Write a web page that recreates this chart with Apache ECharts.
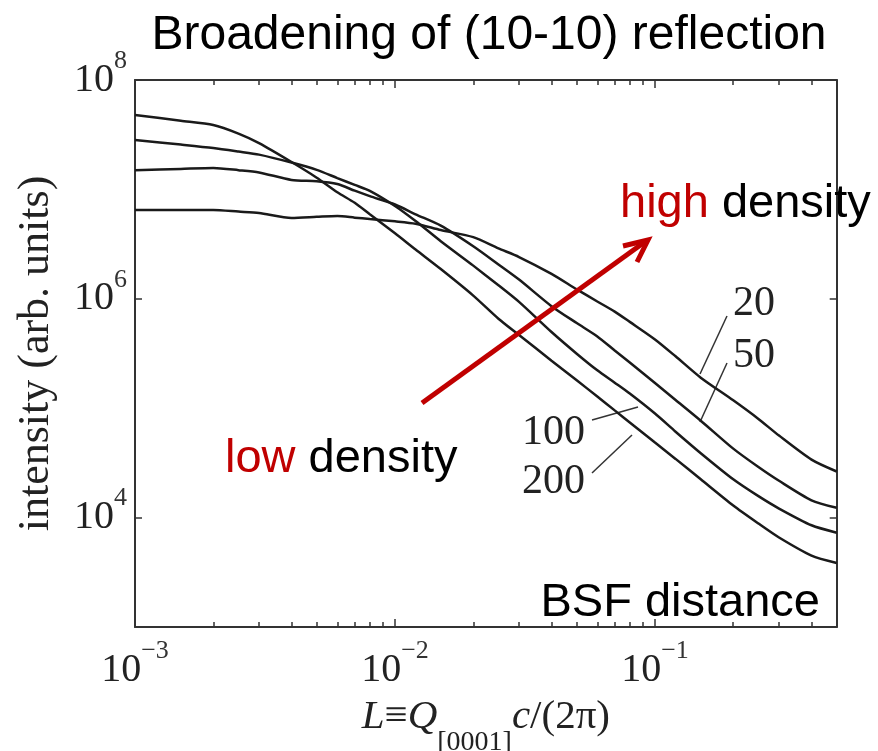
<!DOCTYPE html>
<html><head><meta charset="utf-8">
<script src="https://cdn.jsdelivr.net/npm/echarts@6/dist/echarts.min.js"></script>
<style>html,body{margin:0;padding:0;background:#fff}#c{width:878px;height:751px}</style>
</head><body><div id="c"></div>
<script>
// ---- data ----
const L = [0.001,0.0015,0.002,0.0025,0.003,0.004,0.005,0.006,0.007,0.008,0.01,0.012,0.015,0.02,0.025,0.03,0.04,0.05,0.06,0.07,0.08,0.1,0.12,0.15,0.2,0.25,0.3,0.4,0.5];
const I20  = [6.49e6,6.49e6,6.49e6,6.27e6,6.09e6,5.48e6,5.61e6,5.71e6,5.52e6,5.36e6,5.11e6,4.86e6,4.25e6,3.66e6,2.89e6,2.41e6,1.69e6,1.22e6,9.45e5,7.64e5,6.15e5,4.25e5,2.98e5,1.90e5,1.18e5,7.98e4,5.62e4,3.39e4,2.64e4];
const I50  = [1.50e7,1.54e7,1.57e7,1.50e7,1.43e7,1.22e7,1.19e7,1.12e7,9.73e6,8.68e6,7.28e6,5.92e6,4.66e6,3.02e6,2.06e6,1.50e6,8.57e5,6.00e5,4.53e5,3.37e5,2.62e5,1.70e5,1.19e5,7.69e4,4.27e4,2.90e4,2.17e4,1.44e4,1.23e4];
const I100 = [2.83e7,2.57e7,2.39e7,2.22e7,2.08e7,1.76e7,1.51e7,1.27e7,1.10e7,9.71e6,7.06e6,5.14e6,3.36e6,2.01e6,1.33e6,9.37e5,4.97e5,3.15e5,2.22e5,1.71e5,1.36e5,8.93e4,6.10e4,3.88e4,2.24e4,1.57e4,1.21e4,8.51e3,7.28e3];
const I200 = [4.79e7,4.24e7,3.88e7,3.24e7,2.65e7,1.78e7,1.28e7,9.42e6,7.55e6,5.93e6,3.97e6,2.82e6,1.87e6,1.07e6,6.58e5,4.67e5,2.72e5,1.80e5,1.28e5,9.55e4,7.41e4,4.85e4,3.44e4,2.24e4,1.29e4,8.83e3,6.58e3,4.50e3,3.85e3];
const seriesNames = ['20','50','100','200'];
const xMajor = [0.001, 0.01, 0.1];
const xMinor = [0.002,0.003,0.004,0.005,0.006,0.007,0.008,0.009,0.02,0.03,0.04,0.05,0.06,0.07,0.08,0.09,0.2,0.3,0.4];
const yMajor = [1e4, 1e6, 1e8];
const xRange = [0.001, 0.5];
const yRange = [1e3, 1e8];

// ---- chart ----
const serif = "'Liberation Serif','Times New Roman',serif";
const sans = "'Liberation Sans',Arial,sans-serif";
const axisColor = '#333';
function expLabel(v){
  const e = Math.round(Math.log10(v));
  return '{b|10}{s|' + (e < 0 ? '\u2212' + (-e) : e) + '}';
}
const labelRich = {
  b:{fontFamily:serif,fontSize:40,lineHeight:64,color:'#222'},
  s:{fontFamily:serif,fontSize:26,lineHeight:26,verticalAlign:'top',color:'#333'}
};
function xAx(pos, ticks, len, withLine, withLabel){
  return {
    type:'log', logBase:10, min:xRange[0], max:xRange[1], position:pos, offset:0, gridIndex:0,
    axisLine:{show:withLine, onZero:false, lineStyle:{color:axisColor,width:2}},
    axisTick:{show:true, inside:true, length:len, customValues:ticks, lineStyle:{color:axisColor,width:1.5}},
    axisLabel: withLabel ? {show:true, customValues:xMajor, formatter:expLabel, rich:labelRich, margin:11} : {show:false},
    splitLine:{show:false}, minorTick:{show:false}
  };
}
function yAx(pos, withLabel){
  return {
    type:'log', logBase:10, min:yRange[0], max:yRange[1], position:pos, offset:0, gridIndex:0,
    axisLine:{show:true, onZero:false, lineStyle:{color:axisColor,width:2}},
    axisTick:{show:true, inside:true, length:7, customValues:yMajor, lineStyle:{color:axisColor,width:1.5}},
    axisLabel: withLabel ? {show:true, customValues:yMajor, formatter:expLabel, rich:labelRich, margin:8} : {show:false},
    splitLine:{show:false}, minorTick:{show:false}
  };
}
const xAxes = [xAx('bottom', xMajor, 8, true, true), xAx('bottom', xMinor, 5, false, false),
               xAx('top', xMajor, 8, true, false), xAx('top', xMinor, 5, false, false)];
xAxes[0].name = '{i|L}{n|\u2261}{i|Q}{sub|[0001]}{i|c}{n|/(2\u03c0)}';
xAxes[0].nameLocation = 'middle';
xAxes[0].nameGap = 50;
xAxes[0].nameTextStyle = {
  rich:{
    i:{fontFamily:serif,fontStyle:'italic',fontSize:41,lineHeight:80,color:'#222'},
    n:{fontFamily:serif,fontSize:41,lineHeight:80,color:'#222'},
    sub:{fontFamily:serif,fontSize:28,lineHeight:40,verticalAlign:'bottom',color:'#222'}
  }
};
const yAxes = [yAx('left', true), yAx('right', false)];
yAxes[0].name = 'intensity (arb. units)';
yAxes[0].nameLocation = 'middle';
yAxes[0].nameGap = 77;
yAxes[0].nameTextStyle = {fontFamily:serif, fontSize:44, color:'#222'};

const allI = [I20, I50, I100, I200];
const series = allI.map((arr, k) => ({
  name: seriesNames[k], type:'line', xAxisIndex:0, yAxisIndex:0,
  data: L.map((x, i) => [x, arr[i]]),
  showSymbol:false, smooth:0.25, silent:true,
  lineStyle:{color:'#1a1a1a', width:2.5}
}));

const red = '#c00000';
const graphic = [
  {type:'text', x:489, y:36, style:{text:'Broadening of (10-10) reflection', fontFamily:sans, fontSize:48, fill:'#000', textAlign:'center', textVerticalAlign:'middle'}},
  {type:'text', x:620, y:204, z:100, style:{text:'{r|high} density', fontFamily:sans, fontSize:47, fill:'#000', textVerticalAlign:'middle', rich:{r:{fill:red, fontFamily:sans, fontSize:47}}}},
  {type:'text', x:225, y:459, z:100, style:{text:'{r|low} density', fontFamily:sans, fontSize:47, fill:'#000', textVerticalAlign:'middle', rich:{r:{fill:red, fontFamily:sans, fontSize:47}}}},
  {type:'text', x:820, y:603, z:100, style:{text:'BSF distance', fontFamily:sans, fontSize:47, fill:'#000', textAlign:'right', textVerticalAlign:'middle'}},
  // curve labels and leaders
  {type:'text', x:733, y:304, style:{text:seriesNames[0], fontFamily:serif, fontSize:42, fill:'#222', textVerticalAlign:'middle'}},
  {type:'text', x:733, y:356, style:{text:seriesNames[1], fontFamily:serif, fontSize:42, fill:'#222', textVerticalAlign:'middle'}},
  {type:'text', x:522, y:433, style:{text:seriesNames[2], fontFamily:serif, fontSize:42, fill:'#222', textVerticalAlign:'middle'}},
  {type:'text', x:522, y:482, style:{text:seriesNames[3], fontFamily:serif, fontSize:42, fill:'#222', textVerticalAlign:'middle'}},
  {type:'line', shape:{x1:700,y1:374,x2:727,y2:316}, style:{stroke:'#333', lineWidth:1.5}},
  {type:'line', shape:{x1:700,y1:422,x2:727,y2:363}, style:{stroke:'#333', lineWidth:1.5}},
  {type:'line', shape:{x1:592,y1:420,x2:638,y2:407}, style:{stroke:'#333', lineWidth:1.5}},
  {type:'line', shape:{x1:592,y1:473,x2:632,y2:435}, style:{stroke:'#333', lineWidth:1.5}},
  // red arrow
  {type:'line', z:50, shape:{x1:422,y1:403,x2:646,y2:241}, style:{stroke:red, lineWidth:5, lineCap:'butt'}},
  {type:'polyline', z:50, shape:{points:[[623,246],[648,240],[637,262]]}, style:{stroke:red, lineWidth:5, fill:null, lineJoin:'miter'}}
];

const chart = echarts.init(document.getElementById('c'), null, {renderer:'canvas'});
chart.setOption({
  animation:false,
  backgroundColor:'#fff',
  grid:{left:135, right:41.3, top:80, bottom:124, containLabel:false, outerBoundsMode:'none'},
  xAxis:xAxes, yAxis:yAxes, series:series, graphic:graphic
});
</script></body></html>
